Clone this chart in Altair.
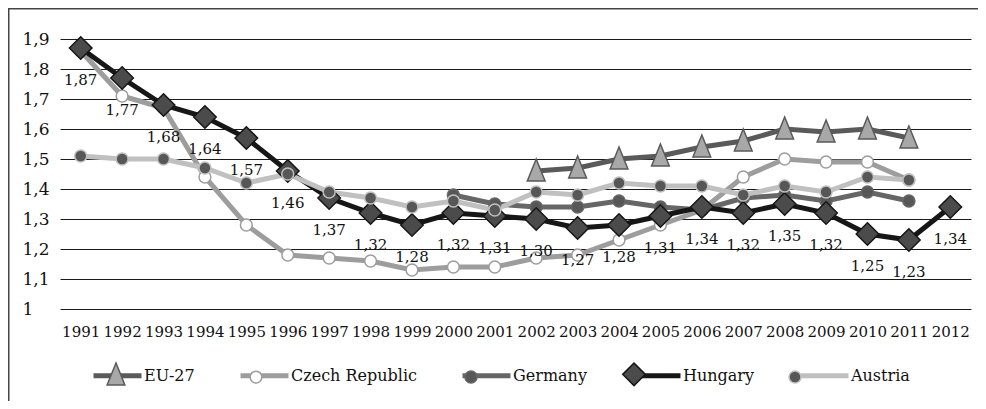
import altair as alt
import pandas as pd

years = [str(y) for y in range(1991, 2013)]
series = ["EU-27", "Czech Republic", "Germany", "Hungary", "Austria"]

eu27 = [None] * 11 + [1.46, 1.47, 1.50, 1.51, 1.54, 1.56, 1.60, 1.59, 1.60, 1.57, None]
czech = [1.86, 1.71, 1.67, 1.44, 1.28, 1.18, 1.17, 1.16, 1.13, 1.14, 1.14,
         1.17, 1.18, 1.23, 1.28, 1.33, 1.44, 1.50, 1.49, 1.49, 1.43, None]
germany = [None] * 9 + [1.38, 1.35, 1.34, 1.34, 1.36, 1.34, 1.33, 1.37, 1.38, 1.36, 1.39, 1.36, None]
hungary = [1.87, 1.77, 1.68, 1.64, 1.57, 1.46, 1.37, 1.32, 1.28, 1.32, 1.31,
           1.30, 1.27, 1.28, 1.31, 1.34, 1.32, 1.35, 1.32, 1.25, 1.23, 1.34]
austria = [1.51, 1.50, 1.50, 1.47, 1.42, 1.45, 1.39, 1.37, 1.34, 1.36, 1.33,
           1.39, 1.38, 1.42, 1.41, 1.41, 1.38, 1.41, 1.39, 1.44, 1.43, None]

y_ticks = [1.0, 1.1, 1.2, 1.3, 1.4, 1.5, 1.6, 1.7, 1.8, 1.9]

values = {"EU-27": eu27, "Czech Republic": czech, "Germany": germany,
          "Hungary": hungary, "Austria": austria}
rows = []
for s in series:
    for yr, v in zip(years, values[s]):
        if v is not None:
            rows.append({"year": yr, "series": s, "value": v})
df = pd.DataFrame(rows)

hdf = pd.DataFrame({"year": years, "value": hungary,
                    "label": [f"{v:.2f}".replace(".", ",") for v in hungary]})

line_colors = ["#5a5a5a", "#9d9d9d", "#666666", "#161616", "#c0c0c0"]
fill_colors = ["#a8a8a8", "#ffffff", "#575757", "#4b4b4b", "#575757"]

# invisible zero-length extents so the marker legend has the same entry bounds
E = 1.073
EXT = f" M{-E},0 L{-E},0 M{E},0 L{E},0"
tri = "M0,-0.5 L0.37,0.42 L-0.37,0.42 Z" + EXT
dia = "M0,-0.47 L0.47,0 L0,0.47 L-0.47,0 Z" + EXT
def circ(r):
    return f"M{-r},0 A{r},{r} 0 1,0 {r},0 A{r},{r} 0 1,0 {-r},0 Z" + EXT
shapes = [tri, circ(0.245), circ(0.25), dia, circ(0.25)]

FONT = "DejaVu Serif"
SYM = 2304

x_enc = alt.X("year:O", scale=alt.Scale(type="point", padding=0.5, domain=years),
              axis=alt.Axis(title=None, labelAngle=0, labelFont=FONT, labelFontSize=15,
                            labelColor="#111111", labelPadding=15, ticks=False,
                            domain=False, grid=False))
y_enc = alt.Y("value:Q", scale=alt.Scale(domain=[1.0, 1.9], zero=False, nice=False),
              axis=alt.Axis(title=None, values=y_ticks,
                            labelExpr="replace(format(datum.value, '.1~f'), '.', ',')",
                            labelAlign="left", labelPadding=38, labelFont=FONT,
                            labelFontSize=17, labelColor="#111111", ticks=False,
                            tickSize=0, domain=False, grid=True, gridColor="#1a1a1a",
                            gridWidth=1.2))

def legend(sw, label_op, stype=None):
    kw = dict(orient="none", legendX=31, legendY=310, direction="horizontal",
              columns=5, columnPadding=35, symbolSize=SYM, symbolStrokeWidth=sw,
              labelFont=FONT, labelFontSize=16, labelColor="#111111", labelOffset=0,
              labelLimit=400, title=None, labelOpacity=label_op, symbolOpacity=1,
              padding=0)
    if stype:
        kw["symbolType"] = stype
    return alt.Legend(**kw)

lines = alt.Chart(df).mark_line(strokeWidth=5).encode(
    x=x_enc, y=y_enc,
    stroke=alt.Stroke("series:N", scale=alt.Scale(domain=series, range=line_colors),
                      legend=legend(5, 1, "stroke")),
)

legB = legend(1.5, 0)
points = alt.Chart(df).mark_point(filled=True, size=SYM, strokeWidth=1.5, opacity=1).encode(
    x=x_enc, y=y_enc,
    shape=alt.Shape("series:N", scale=alt.Scale(domain=series, range=shapes), legend=legB),
    fill=alt.Fill("series:N", scale=alt.Scale(domain=series, range=fill_colors), legend=legB),
    stroke=alt.Stroke("series:N", scale=alt.Scale(domain=series, range=line_colors), legend=legB),
)

labels = alt.Chart(hdf).mark_text(dy=32, font=FONT, fontSize=15, color="#111111").encode(
    x=x_enc, y=y_enc, text="label:N")

dummy = pd.DataFrame({"k": [0]})
frame_left = alt.Chart(dummy).mark_rule(color="#444444", strokeWidth=1.5).encode(
    x=alt.value(-51.25), y=alt.value(-31), y2=alt.value(362))
frame_top = alt.Chart(dummy).mark_rule(color="#444444", strokeWidth=1.5).encode(
    x=alt.value(-52), x2=alt.value(920), y=alt.value(-30.25))

chart = alt.layer(frame_left, frame_top, lines, points, labels).resolve_scale(
    stroke="independent", fill="independent", shape="independent"
).properties(
    width=911, height=270,
    padding={"left": 52, "top": 31, "right": 7, "bottom": 92},
    autosize=alt.AutoSizeParams(type="none"),
    background="white",
).configure_view(stroke=None)

chart.save("out.html", embed_options={"renderer": "svg", "actions": False})
